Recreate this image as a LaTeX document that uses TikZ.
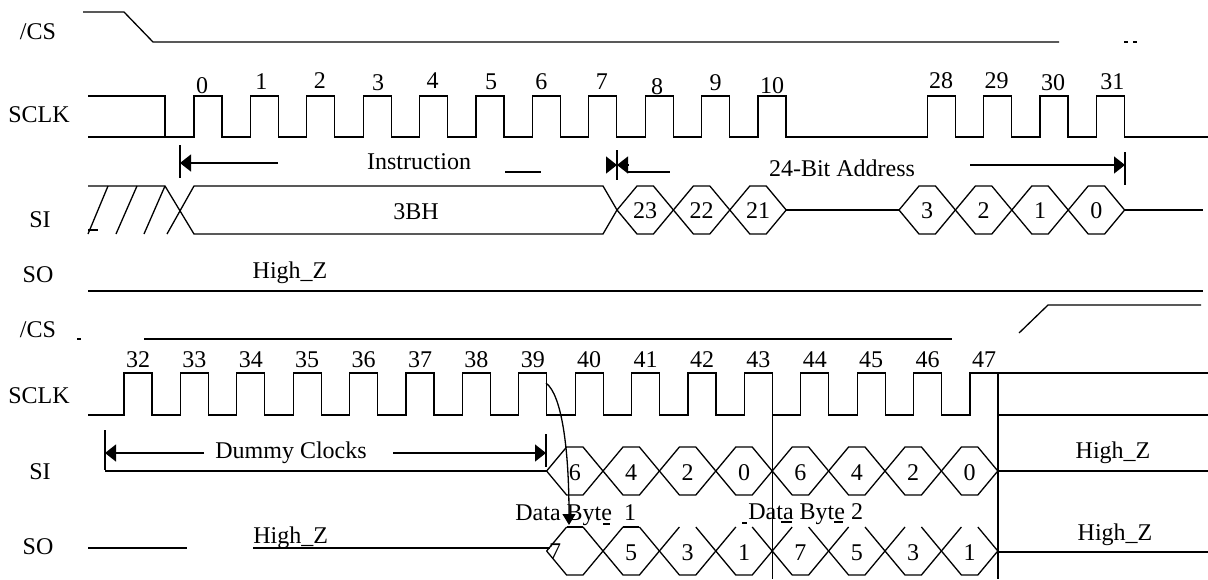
\documentclass[tikz,border=0pt]{standalone}
\usepackage{fontspec}
\setmainfont{Liberation Serif}
\usetikzlibrary{arrows.meta}

\begin{document}
\begin{tikzpicture}[x=0.5pt, y=-0.5pt,
        wave/.style={draw=black, line width=0.65pt},
        bus/.style={draw=black, line width=1.1pt},
        dim/.style={draw=black, line width=0.65pt, -{Triangle[length=5.5pt,width=8.5pt]}},
        sig/.style={font=\fontsize{12}{14}\selectfont, inner sep=0pt},
        num/.style={font=\fontsize{12}{14}\selectfont, inner sep=0pt}]
  \useasboundingbox (0,0) rectangle (1208,579);

  % signal names
  \node[sig] (cs1) at (38,32) {/CS};
  \node[sig] (sclk1) at (39,115) {SCLK};
  \node[sig] (si1) at (40,220) {SI};
  \node[sig] (so1) at (38,275) {SO};
  \node[sig] (cs2) at (38,330) {/CS};
  \node[sig] (sclk2) at (39,396) {SCLK};
  \node[sig] (si2) at (40,472) {SI};
  \node[sig] (so2) at (38,547) {SO};

  % /CS, first part
  \draw[wave] (83,12) -- (124,12) -- (153,42) -- (1059,42);
  \draw[wave] (1124,42) -- (1128,42) (1133,42) -- (1137,42);

  % SCLK 0..31
  \draw[wave] (88,96) -- (165,96) -- (165,137);
  \draw[bus] (88,96) -- (103,96);
  \draw[wave] (88,137) \foreach \k in {0,1,2,3,4,5,6,7,8,9,10,13,14,15,16} {
      -- ({194+56.4*\k},137) -- ({194+56.4*\k},96) -- ({222+56.4*\k},96) -- ({222+56.4*\k},137) } -- (1208,137);
  \foreach \k/\n/\dx/\dy in {0/0/-6/4, 1/1/-3/0, 2/2/-1/-1, 3/3/1/1, 4/4/-1/-1, 5/5/1/0, 6/6/-5/0, 7/7/-1/0,
      8/8/-2/5, 9/9/0/1, 10/10/0/4, 13/28/0/-1, 14/29/-1/-1, 15/30/-1/1, 16/31/2/0}
    \node[num] (c\n) at ({208+56.4*\k+\dx},{82+\dy}) {\n};

  % Instruction / 24-Bit Address
  \coordinate (insL) at (180,163);
  \coordinate (insR) at (617,165);
  \coordinate (adrR) at (1125,165);
  \draw[wave] (180,145) -- (180,178);
  \draw[wave] (617,150) -- (617,180);
  \draw[wave] (1125,152) -- (1125,185);
  \draw[dim] (278,163) -- (insL);
  \node[sig] (ins) at (419,162) {Instruction};
  \draw[wave] (505,172) -- (541,172);
  \draw[dim] (607,165) -- (insR);
  \draw[dim] (628,165) -- (insR);
  \draw[wave] (628,172) -- (670,172);
  \node[sig] (adr) at (842,168) {24-Bit Address};
  \draw[dim] (970,165) -- (adrR);

  % SI, first part
  \draw[wave] (88,230) -- (98,230);
  \draw[wave] (88,234) -- (108,186) (116,234) -- (137,186) (144,234) -- (165,186);
  \draw[wave] (88,186) -- (165,186) -- (194,234) -- (603,234) -- (617,210) -- (603,186) -- (194,186) -- (167,234);
  \node[sig] (cmd) at (416,212) {3BH};
  \foreach \k/\b [evaluate=\k as \a using 617+56.4*\k] in {0/23,1/22,2/21,5/3,6/2,7/1,8/0} {
    \draw[wave] (\a,210) -- ++(20,-24) -- ++(16.4,0) -- ++(20,24) -- ++(-20,24) -- ++(-16.4,0) -- cycle;
    \node[num] (a\b) at (\a+28.2,211) {\b};
  }
  \draw[wave] (786.2,210) -- (899,210);
  \draw[wave] (1124.6,210) -- (1203,210);

  % SO, first part
  \draw[bus] (88,291) -- (1203,291);
  \node[sig] (hz1) at (290,273) {High\_Z};

  % /CS, second part
  \draw[wave] (77,339) -- (81,339);
  \draw[wave] (144,339) -- (952,339);
  \draw[wave] (1019,333) -- (1048,305) -- (1201,305);

  % SCLK 32..47
  \draw[wave] (88,415) \foreach \k in {0,...,14} {
      -- ({124+56.4*\k},415) -- ({124+56.4*\k},373) -- ({152+56.4*\k},373) -- ({152+56.4*\k},415) }
      -- (970,415) -- (970,373) -- (1208,373);
  \draw[wave] (998,415) -- (1208,415);
  \draw[wave] (998,373) -- (998,579);
  \draw[wave] (772.4,373) -- (772.4,579);
  \foreach \k in {32,...,47}
    \node[num] (c\k) at ({138+56.4*(\k-32)},360) {\k};

  % Dummy Clocks
  \coordinate (dumL) at (105,453);
  \coordinate (dumR) at (546,453);
  \draw[wave] (105,430) -- (105,470);
  \draw[wave] (546,434) -- (546,467);
  \draw[dim] (204,453) -- (dumL);
  \node[sig] (dum) at (291,453) {Dummy Clocks};
  \draw[dim] (393,453) -- (dumR);

  % SI, second part
  \draw[wave] (105,471) -- (546.6,471);
  \foreach \k/\b [evaluate=\k as \a using 546.6+56.4*\k] in {0/6,1/4,2/2,3/0,4/6,5/4,6/2,7/0} {
    \draw[wave] (\a,471) -- ++(20,-24) -- ++(16.4,0) -- ++(20,24) -- ++(-20,24) -- ++(-16.4,0) -- cycle;
    \node[num] (i\k) at (\a+28.2,473) {\b};
  }
  \draw[wave] (998,471) -- (1208,471);
  \node[sig] (hz2) at (1113,453) {High\_Z};

  % SO, second part
  \draw[wave] (88,548) -- (187,548);
  \node[sig, anchor=base west] (hz3) at (253,543) {High\_Z};
  \draw[wave] (253,548) -- (550,548);
  \foreach \k [evaluate=\k as \a using 546.6+56.4*\k] in {0,...,7} {
    \draw[wave] (\a,551) -- ++(20,-24) ++(16.4,0) -- ++(20,24) -- ++(-20,24) -- ++(-16.4,0) -- ++(-20,-24);
  }
  \draw[wave] (566.6,527) -- (583,527) (623,527) -- (639.4,527);
  \node[num] (o0) at (555,552) {7};
  \foreach \k/\b in {1/5,2/3,3/1,4/7,5/5,6/3,7/1}
    \node[num] (o\k) at ({574.8+56.4*\k},553) {\b};
  \draw[wave] (998,552) -- (1208,552);
  \node[sig] (hz4) at (1115,535) {High\_Z};

  % data bytes
  \node[sig, anchor=base west] (db1) at (515,520) {Data Byte\ \ 1};
  \draw[wave] (603,524) -- (610,524);
  \node[sig, anchor=base west] (db2) at (748,519) {Data Byte 2};
  \draw[wave] (742,523) -- (747,523) (781,522) -- (792,522) (834,522) -- (843,522);
  \draw[wave, -{Triangle[length=5.5pt,width=6.5pt]}] (546,383) .. controls (562,395) and (569,450) .. (569,525);
\end{tikzpicture}
\end{document}
